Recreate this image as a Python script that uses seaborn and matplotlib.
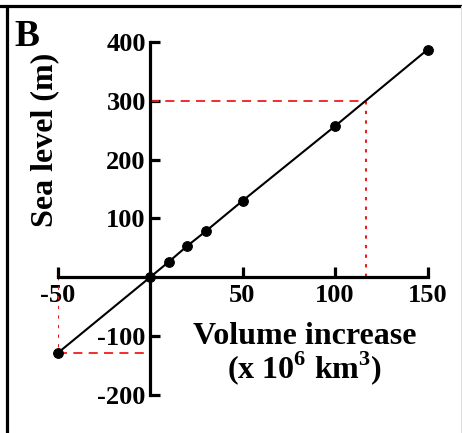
import matplotlib
matplotlib.use("Agg")
import matplotlib.pyplot as plt
from matplotlib.lines import Line2D
import seaborn as sns
import pandas as pd

# data
volume = [-50, 0, 10, 20, 30, 50, 100, 150]
sea_level = [-129, 0, 26, 53, 78, 130, 257, 387]
target_level = 300
target_volume = 117
x_ticks = [-50, 50, 100, 150]
y_ticks = [-200, -100, 100, 200, 300, 400]

sns.set_style("ticks")
plt.rcParams['font.family'] = ['Liberation Serif', 'DejaVu Serif']
plt.rcParams['font.weight'] = 'bold'
plt.rcParams['axes.unicode_minus'] = False
plt.rcParams['mathtext.fontset'] = 'custom'
plt.rcParams['mathtext.rm'] = 'Liberation Serif:bold'
plt.rcParams['mathtext.bf'] = 'Liberation Serif:bold'
plt.rcParams['text.color'] = 'black'
plt.rcParams['axes.labelcolor'] = 'black'

df = pd.DataFrame({"volume": volume, "sea": sea_level})

fig = plt.figure(figsize=(4.62, 4.33), dpi=100)
ax = fig.add_axes([57.5/462, 38/433, 370/462, 353/433])

red = "#ee1c1c"
# guide lines
ax.plot([0, target_volume], [target_level, target_level], color=red, lw=1.3, dashes=(5, 3.5))
ax.plot([target_volume, target_volume], [0, target_level], color=red, lw=1.5, dashes=(1.6, 3))
ax.plot([volume[0], 0], [sea_level[0], sea_level[0]], color=red, lw=1.3, dashes=(5, 3.5))
ax.plot([volume[0], volume[0]], [0, sea_level[0]], color=red, lw=1.5, dashes=(1.6, 3))

sns.lineplot(data=df, x="volume", y="sea", ax=ax, color="black", lw=1.5,
             marker="o", markersize=7, markeredgecolor="black", clip_on=False, zorder=5)

ax.set_xlim(-50, 150)
ax.set_ylim(-200, 400)
ax.spines['left'].set_position(('data', 0))
ax.spines['bottom'].set_position(('data', 0))
for s in ['top', 'right']:
    ax.spines[s].set_visible(False)
for s in ['left', 'bottom']:
    ax.spines[s].set_linewidth(2.3)
    ax.spines[s].set_capstyle('projecting')
    ax.spines[s].set_color('black')

ax.set_xticks(x_ticks)
ax.set_yticks(y_ticks)
ax.set_xticklabels([str(v) for v in x_ticks])
ax.set_yticklabels([str(v) for v in y_ticks])
ax.tick_params(axis='both', direction='in', length=7, width=2.3, labelsize=19,
               colors='black', labelcolor='black')
ax.tick_params(axis='x', pad=5)
ax.tick_params(axis='y', pad=3)
for lab in ax.get_xticklabels() + ax.get_yticklabels():
    lab.set_fontweight('bold')

ax.set_xlabel("Volume increase\n(x 10$^6$ km$^3$)", fontsize=23, fontweight='bold',
              linespacing=0.95, color='black')
ax.xaxis.set_label_coords((305-57.5)/370, ((433-322)/433 - 38/433)/(353/433))
ax.set_ylabel("Sea level (m)", fontsize=23, fontweight='bold', color='black')
ax.yaxis.set_label_coords(0.005, ((433-140)/433 - 38/433)/(353/433))

fig.text(14/462, (433-46)/433, "B", fontsize=27, fontweight='bold', ha='left', va='baseline')

# frame lines
fig.add_artist(Line2D([0, 1], [(433-5.5)/433]*2, color='black', lw=2.3, transform=fig.transFigure))
fig.add_artist(Line2D([7.5/462]*2, [0, (433-5.5)/433], color='black', lw=2.3, transform=fig.transFigure))
fig.add_artist(Line2D([460.5/462]*2, [0, (433-5.5)/433], color='#dddddd', lw=0.8, transform=fig.transFigure))

fig.savefig("out.png", dpi=100)
